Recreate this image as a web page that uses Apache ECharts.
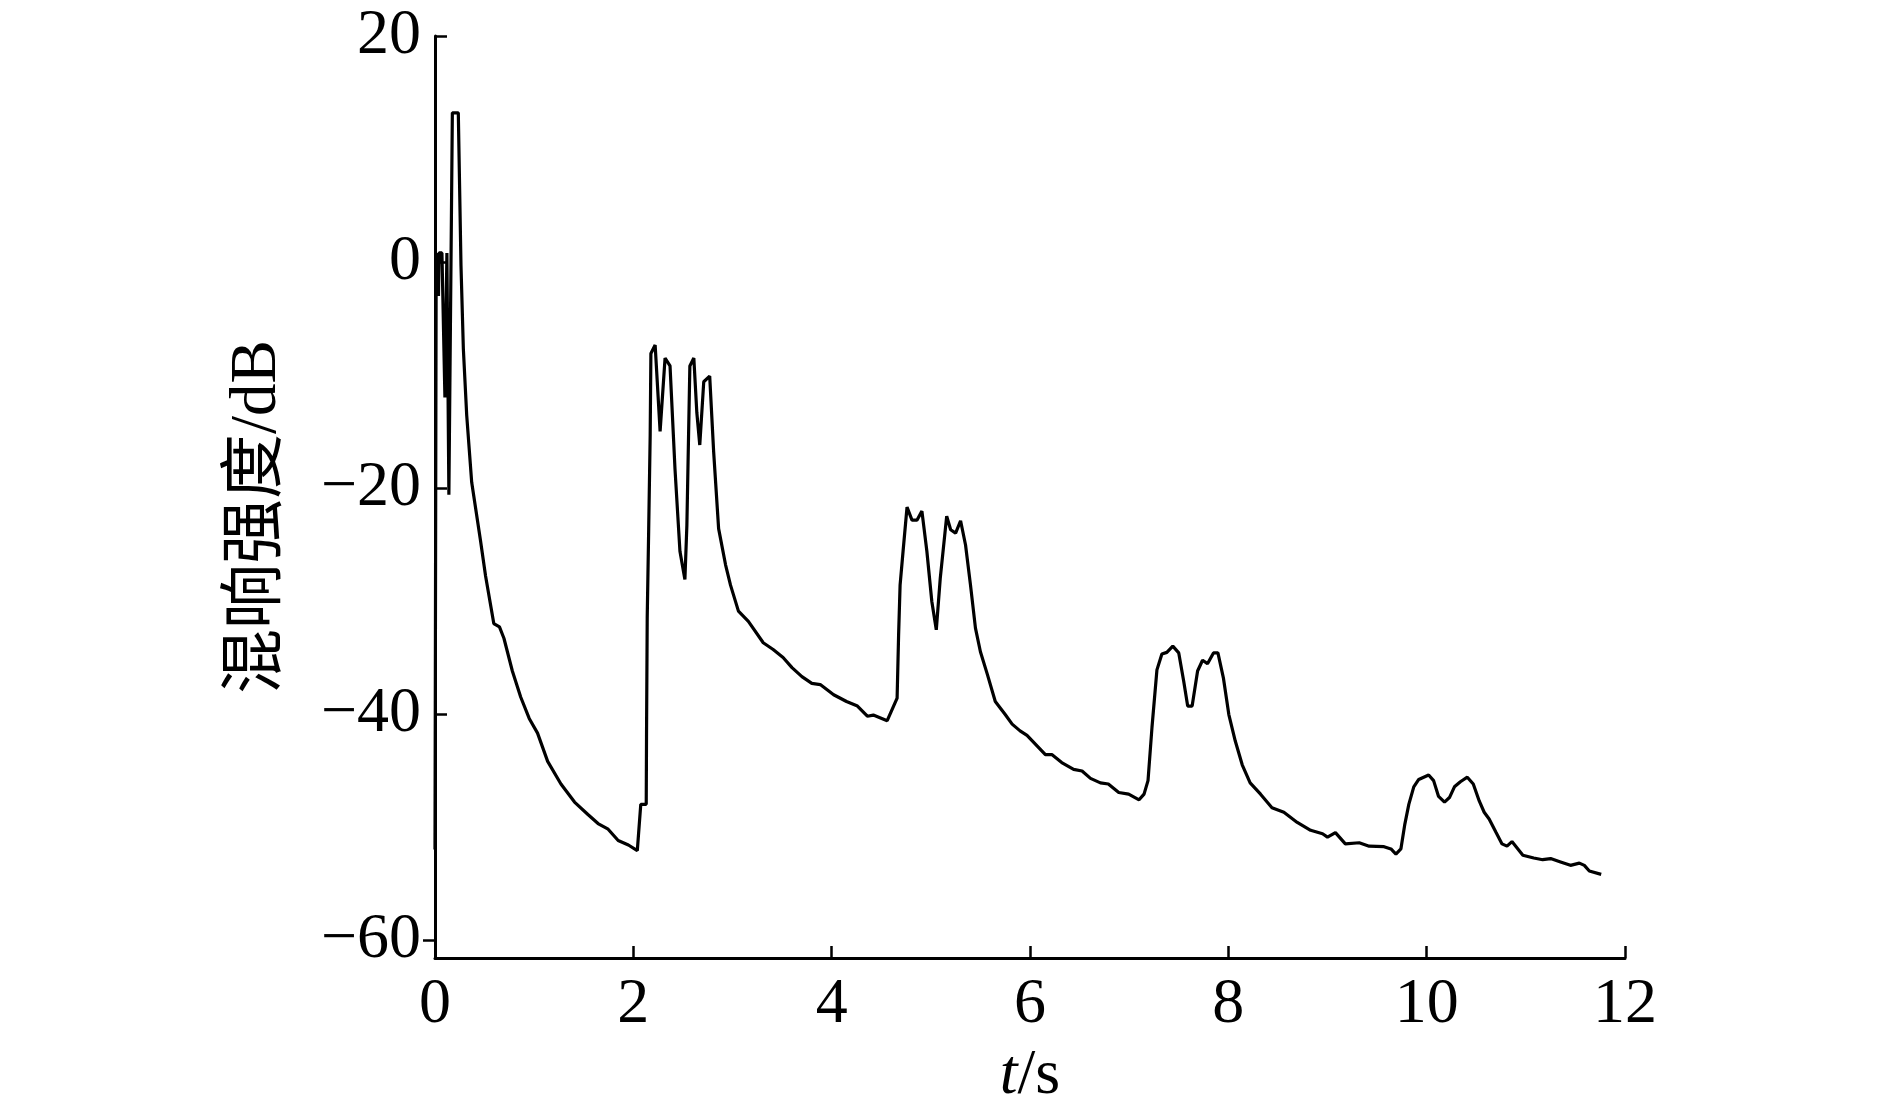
<!DOCTYPE html>
<html>
<head>
<meta charset="utf-8">
<title>混响强度</title>
<script src="https://cdn.jsdelivr.net/npm/echarts@6/dist/echarts.min.js"></script>
<style>
  html, body { margin: 0; padding: 0; background: #fff; }
  #chart { width: 1890px; height: 1113px; }
</style>
</head>
<body>
<div id="chart"></div>
<script>
  // time (s) and reverberation level (dB)
  const times = [
    0.000, 0.012, 0.030, 0.035, 0.040, 0.070, 0.100, 0.120, 0.130, 0.140,
    0.175, 0.235, 0.262, 0.286, 0.320, 0.370, 0.458, 0.510, 0.593, 0.650,
    0.695, 0.780, 0.864, 0.950, 1.034, 1.136, 1.270, 1.407, 1.542, 1.644,
    1.746, 1.847, 1.950, 2.040, 2.075, 2.130, 2.133, 2.140, 2.155, 2.170,
    2.177, 2.220, 2.270, 2.320, 2.370, 2.420, 2.470, 2.520, 2.540, 2.570,
    2.610, 2.640, 2.670, 2.710, 2.770, 2.810, 2.860, 2.930, 2.980, 3.060,
    3.160, 3.310, 3.410, 3.510, 3.600, 3.700, 3.800, 3.885, 4.020, 4.150,
    4.260, 4.360, 4.420, 4.560, 4.660, 4.675, 4.690, 4.720, 4.760, 4.810,
    4.860, 4.910, 4.960, 5.010, 5.055, 5.095, 5.160, 5.200, 5.250, 5.300,
    5.350, 5.400, 5.450, 5.500, 5.570, 5.650, 5.750, 5.820, 5.900, 5.970,
    6.155, 6.220, 6.320, 6.440, 6.525, 6.610, 6.710, 6.790, 6.895, 6.995,
    7.100, 7.150, 7.190, 7.230, 7.280, 7.330, 7.380, 7.440, 7.500, 7.550,
    7.590, 7.635, 7.690, 7.740, 7.790, 7.850, 7.895, 7.950, 8.005, 8.070,
    8.140, 8.220, 8.325, 8.440, 8.560, 8.695, 8.830, 8.950, 9.000, 9.080,
    9.180, 9.320, 9.420, 9.570, 9.640, 9.690, 9.740, 9.780, 9.820, 9.870,
    9.920, 10.020, 10.070, 10.120, 10.180, 10.230, 10.280, 10.340, 10.410, 10.470,
    10.530, 10.580, 10.630, 10.700, 10.760, 10.810, 10.860, 10.970, 11.080, 11.170,
    11.250, 11.350, 11.450, 11.540, 11.590, 11.640, 11.760
  ]
  const levels = [
    -52, 0.8, 0.8, -3, 0.8, 0.8, -12, 0.8, 0.8, -20.6,
    13.2, 13.2, -0.3, -7.7, -13.6, -19.5, -24.6, -27.8, -32.0, -32.3,
    -33.3, -36.2, -38.5, -40.4, -41.7, -44.2, -46.2, -47.8, -48.9, -49.7,
    -50.2, -51.2, -51.6, -52.1, -48.0, -48.0, -42.0, -31.5, -23.6, -15.3,
    -8.1, -7.35, -15.0, -8.5, -9.2, -18.3, -25.6, -28.1, -23.3, -9.2,
    -8.5, -13.3, -16.2, -10.6, -10.1, -16.8, -23.6, -26.8, -28.6, -30.9,
    -31.8, -33.7, -34.3, -35.0, -35.9, -36.7, -37.3, -37.4, -38.3, -38.9,
    -39.3, -40.2, -40.1, -40.6, -38.6, -33.0, -28.6, -25.6, -21.7, -22.85,
    -22.85, -22.05, -25.6, -30.05, -32.55, -28.0, -22.5, -23.7, -24.0, -22.9,
    -25.05, -28.6, -32.4, -34.5, -36.5, -38.9, -40.05, -40.9, -41.5, -41.9,
    -43.6, -43.6, -44.3, -44.9, -45.05, -45.7, -46.1, -46.2, -46.95, -47.1,
    -47.6, -47.1, -45.9, -41.2, -36.1, -34.7, -34.55, -34.0, -34.6, -37.1,
    -39.3, -39.3, -36.2, -35.25, -35.55, -34.6, -34.6, -36.8, -40.05, -42.4,
    -44.5, -46.1, -47.1, -48.3, -48.7, -49.6, -50.3, -50.6, -50.9, -50.5,
    -51.5, -51.4, -51.7, -51.75, -51.95, -52.4, -51.95, -49.75, -48.0, -46.45,
    -45.8, -45.4, -45.9, -47.3, -47.8, -47.4, -46.45, -46.0, -45.6, -46.2,
    -47.7, -48.7, -49.3, -50.5, -51.5, -51.7, -51.3, -52.5, -52.75, -52.9,
    -52.8, -53.1, -53.4, -53.2, -53.4, -53.9, -54.2
  ]
  const yTicks = [-60, -40, -20, 0, 20]
  const yTicksInside = [-40, -20, 0, 20]
  const yTicksOutside = [-60]

  const font = "'Liberation Serif', 'Noto Sans CJK SC', serif"
  const yMin = -61.6
  const yMax = 20
  const chart = echarts.init(document.getElementById('chart'))

  const option = {
    animation: false,
    backgroundColor: '#fff',
    grid: {
      left: 435,
      right: 265,
      top: 36,
      bottom: 154,
      containLabel: false
    },
    xAxis: {
      type: 'value',
      min: 0,
      max: 12,
      interval: 2,
      name: '{i|t}/s',
      nameLocation: 'middle',
      nameGap: 86,
      nameTextStyle: {
        fontFamily: font,
        fontSize: 64,
        color: '#000',
        rich: {
          i: { fontFamily: font, fontSize: 64, fontStyle: 'italic', color: '#000' }
        }
      },
      axisLine: { onZero: false, lineStyle: { color: '#000', width: 3 } },
      axisTick: { inside: true, length: 12, lineStyle: { color: '#000', width: 2.5 } },
      axisLabel: { fontFamily: font, fontSize: 64, color: '#000', margin: 15 },
      splitLine: { show: false }
    },
    yAxis: [
      {
        type: 'value',
        min: yMin,
        max: yMax,
        name: '混响强度/dB',
        nameLocation: 'middle',
        nameRotate: 90,
        nameGap: 145,
        nameTextStyle: {
          fontFamily: font,
          fontSize: 65,
          color: '#000',
          padding: [0, 40, 0, 0]
        },
        axisLine: { show: true, onZero: false, lineStyle: { color: '#000', width: 3 } },
        axisTick: {
          show: true,
          inside: true,
          length: 12,
          customValues: yTicksInside,
          lineStyle: { color: '#000', width: 2.5 }
        },
        axisLabel: {
          fontFamily: font,
          fontSize: 64,
          color: '#000',
          margin: 14,
          customValues: yTicks,
          formatter: v => String(v).replace('-', '\u2212')
        },
        splitLine: { show: false }
      },
      {
        // same scale, only carries the outward tick at -60
        type: 'value',
        position: 'left',
        min: yMin,
        max: yMax,
        axisLine: { show: false, onZero: false },
        axisTick: {
          show: true,
          inside: false,
          length: 12,
          customValues: yTicksOutside,
          lineStyle: { color: '#000', width: 2.5 }
        },
        axisLabel: { show: false },
        splitLine: { show: false }
      }
    ],
    series: [
      {
        type: 'line',
        data: times.map((t, i) => [t, levels[i]]),
        showSymbol: false,
        symbol: 'none',
        smooth: false,
        lineStyle: { color: '#000', width: 3.2 }
      }
    ]
  }

  chart.setOption(option)
</script>
</body>
</html>
